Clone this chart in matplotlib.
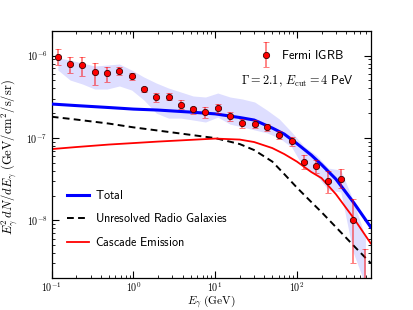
import numpy as np
import matplotlib
matplotlib.use("Agg")
import matplotlib.pyplot as plt
from matplotlib.ticker import FuncFormatter, NullFormatter, LogLocator
from matplotlib.legend_handler import HandlerErrorbar

plt.rcParams['mathtext.fontset'] = 'cm'

# Fermi IGRB data points (GeV, GeV/cm^2/s/sr)
igrb_E = [0.119, 0.168, 0.238, 0.336, 0.476, 0.673, 0.951, 1.345, 1.902, 2.690,
          3.805, 5.381, 7.610, 10.76, 15.22, 21.52, 30.44, 43.05, 60.88, 86.10,
          121.8, 172.2, 243.5, 344.4, 487.1, 688.8]
igrb_flux = [9.67e-7, 7.95e-7, 7.73e-7, 6.25e-7, 6.08e-7, 6.54e-7, 5.60e-7, 3.89e-7, 3.11e-7, 3.16e-7,
             2.53e-7, 2.26e-7, 2.06e-7, 2.29e-7, 1.85e-7, 1.50e-7, 1.47e-7, 1.34e-7, 1.09e-7, 9.10e-8,
             5.18e-8, 4.54e-8, 3.00e-8, 3.15e-8, 1.01e-8, 1.2e-9]
igrb_up = [1.19e-6, 9.67e-7, 9.67e-7, 8.04e-7, 7.31e-7, 7.31e-7, 6.08e-7, 4.18e-7, 3.54e-7, 3.48e-7,
           2.88e-7, 2.39e-7, 2.39e-7, 2.58e-7, 2.08e-7, 1.68e-7, 1.65e-7, 1.47e-7, 1.22e-7, 1.03e-7,
           6.21e-8, 5.40e-8, 3.97e-8, 4.20e-8, 1.80e-8, 4.49e-9]
igrb_lo = [7.67e-7, 6.14e-7, 5.60e-7, 4.38e-7, 4.73e-7, 5.80e-7, 5.05e-7, 3.57e-7, 2.73e-7, 2.88e-7,
           2.22e-7, 1.95e-7, 1.73e-7, 1.99e-7, 1.62e-7, 1.33e-7, 1.31e-7, 1.22e-7, 9.62e-8, 7.98e-8,
           4.16e-8, 3.71e-8, 2.16e-8, 2.44e-8, 3.01e-9, 1e-10]

# systematic band from foreground models
band_up = [9.33e-7, 8.82e-7, 8.11e-7, 7.46e-7, 7.67e-7, 7.89e-7, 6.67e-7, 5.48e-7, 4.64e-7, 4.03e-7,
           3.61e-7, 3.23e-7, 3.14e-7, 3.51e-7, 3.14e-7, 2.97e-7, 2.73e-7, 2.18e-7, 1.70e-7, 1.18e-7,
           7.97e-8, 6.20e-8, 4.31e-8, 4.08e-8, 1.76e-8, 6.27e-9]
band_lo = [6.67e-7, 5.04e-7, 4.51e-7, 3.92e-7, 3.92e-7, 4.27e-7, 3.81e-7, 2.88e-7, 2.00e-7, 1.74e-7,
           1.74e-7, 1.65e-7, 1.56e-7, 1.79e-7, 1.47e-7, 1.36e-7, 1.25e-7, 1.15e-7, 9.97e-8, 7.76e-8,
           4.31e-8, 3.55e-8, 2.33e-8, 2.21e-8, 4.12e-9, 1.64e-9]

# model curves
model_E = [0.1, 0.2, 0.5, 1, 2, 5, 10, 20, 30, 50, 70, 100, 150, 200, 300, 500, 800]
radio_gal = [1.808e-7, 1.672e-7, 1.495e-7, 1.345e-7, 1.230e-7, 1.091e-7, 9.97e-8, 8.43e-8, 7.13e-8,
             5.17e-8, 3.65e-8, 2.50e-8, 1.67e-8, 1.26e-8, 8.29e-9, 4.88e-9, 3.03e-9]
cascade = [7.33e-8, 7.76e-8, 8.32e-8, 8.67e-8, 9.04e-8, 9.48e-8, 9.83e-8, 9.56e-8, 8.92e-8,
           7.54e-8, 6.38e-8, 5.17e-8, 3.86e-8, 3.26e-8, 2.08e-8, 1.05e-8, 5.26e-9]
total = [2.58e-7, 2.47e-7, 2.34e-7, 2.24e-7, 2.18e-7, 2.06e-7, 1.96e-7, 1.77e-7, 1.65e-7,
         1.32e-7, 1.115e-7, 8.55e-8, 6.20e-8, 4.75e-8, 3.17e-8, 1.62e-8, 8.29e-9]

fig = plt.figure(figsize=(4.13, 3.10), dpi=100)
ax = fig.add_axes([0.1252, 0.1032, 0.7724, 0.7977])

ax.fill_between(igrb_E, band_lo, band_up, color='blue', alpha=0.13, lw=0, zorder=1)
l_tot, = ax.plot(model_E, total, color='blue', lw=2.2, zorder=3)
l_rg, = ax.plot(model_E, radio_gal, color='black', lw=1.4, ls=(0, (3.5, 2.2)), zorder=2)
l_cas, = ax.plot(model_E, cascade, color='red', lw=1.3, zorder=2)

yerr = [np.array(igrb_flux) - np.array(igrb_lo), np.array(igrb_up) - np.array(igrb_flux)]
eb = ax.errorbar(igrb_E, igrb_flux, yerr=yerr, fmt='o', color='red', ms=4.5,
                 mec='#3a0000', mew=0.6, ecolor=(1, 0, 0, 0.6), elinewidth=1.1,
                 capsize=2.4, capthick=1.0, zorder=4)

ax.set_xscale('log')
ax.set_yscale('log')
ax.set_xlim(0.1, 800)
ax.set_ylim(2e-9, 2e-6)

fmt = FuncFormatter(lambda v, p: r"$10^{%d}$" % int(round(np.log10(v))))
ax.xaxis.set_major_formatter(fmt)
ax.yaxis.set_major_formatter(fmt)
ax.xaxis.set_minor_formatter(NullFormatter())
ax.yaxis.set_minor_formatter(NullFormatter())
ax.xaxis.set_minor_locator(LogLocator(subs=np.arange(2, 10), numticks=20))
ax.yaxis.set_minor_locator(LogLocator(subs=np.arange(2, 10), numticks=20))
ax.tick_params(which='both', direction='in', top=True, right=True, labelsize=7.2)
ax.tick_params(which='major', length=5, width=0.8)
ax.tick_params(axis='x', which='major', pad=2)
ax.tick_params(axis='y', which='major', pad=3)
ax.tick_params(which='minor', length=2.5, width=0.6)
for s in ax.spines.values():
    s.set_linewidth(0.9)

ax.set_xlabel(r"$E_\gamma\ (\mathrm{GeV})$", fontsize=8.2)
ax.set_ylabel(r"$E_\gamma^2\, dN/dE_\gamma\ (\mathrm{GeV/cm^2/s/sr})$", fontsize=9)
ax.xaxis.set_label_coords(0.5, -0.064)
ax.yaxis.set_label_coords(-0.10, 0.49)

leg1 = ax.legend([eb], [r"$\mathsf{Fermi\ IGRB}$"], loc='center left',
                 bbox_to_anchor=(0.612, 0.90), frameon=False, fontsize=9,
                 handlelength=1.2, handletextpad=0.6, numpoints=1,
                 handler_map={type(eb): HandlerErrorbar(yerr_size=1.0)})
ax.add_artist(leg1)
ax.legend([l_tot, l_rg, l_cas],
          [r"$\mathsf{Total}$", r"$\mathsf{Unresolved\ Radio\ Galaxies}$",
           r"$\mathsf{Cascade\ Emission}$"],
          loc='lower left', bbox_to_anchor=(0.014, 0.074), frameon=False,
          fontsize=8.7, handlelength=1.85, handletextpad=0.5, labelspacing=0.86)

ax.text(0.77, 0.797, r"$\Gamma = 2.1,\, E_{\rm cut} = 4\ \mathsf{PeV}$",
        transform=ax.transAxes, ha='center', va='center', fontsize=8.8)

fig.savefig("out.png", dpi=100)
